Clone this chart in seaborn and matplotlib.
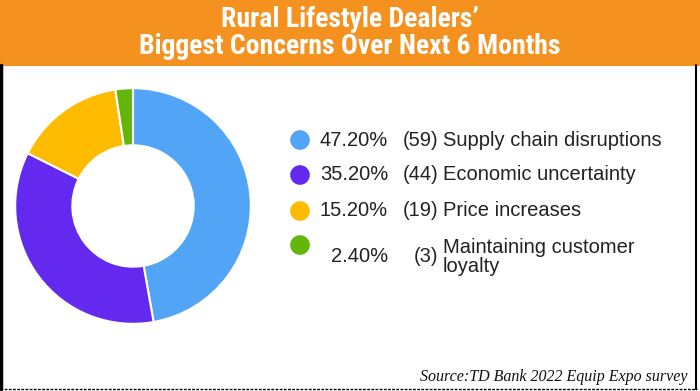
import matplotlib
matplotlib.use("Agg")
import matplotlib.pyplot as plt
import seaborn as sns
from matplotlib.patches import Rectangle

# data
labels = ["Supply chain disruptions", "Economic uncertainty", "Price increases",
          "Maintaining customer\nloyalty"]
counts = [59, 44, 19, 3]
shares = [47.20, 35.20, 15.20, 2.40]
colors = ["#52A5F6", "#6329EF", "#FFBB00", "#63B60A"]

title = "Rural Lifestyle Dealers\u2019\nBiggest Concerns Over Next 6 Months"
source = "Source:TD Bank 2022 Equip Expo survey"

sns.set_theme(style="white")
plt.rcParams["font.family"] = ["Liberation Sans", "DejaVu Sans"]

fig = plt.figure(figsize=(7, 3.91), dpi=100)

# overlay in pixel coords for header, borders and legend
ov = fig.add_axes([0, 0, 1, 1])
ov.set_xlim(0, 700)
ov.set_ylim(391, 0)
ov.axis("off")
ov.add_patch(Rectangle((0, 0), 700, 65.5, color="#F5911E", lw=0))
ov.plot([1, 1], [65, 389], color="black", lw=2.5)
ov.plot([696, 696], [65, 389], color="black", lw=1.5)
ov.plot([0, 697], [389, 389], color="black", lw=1, ls=(0, (2, 1)))
ov.text(350, 33, title, ha="center", va="center", color="white",
        fontsize=20, fontweight="bold", linespacing=1.02,
        family=["Liberation Sans Narrow", "Roboto Condensed", "DejaVu Sans"])
ov.text(688, 377, source, ha="right", va="center", fontsize=11.5,
        style="italic", family=["Liberation Serif", "DejaVu Serif"], color="#111111")

# legend
dot_y = [140, 175, 211, 245]
text_y = [140, 175, 211, 257]
ov.scatter([300] * len(dot_y), dot_y, s=200, c=colors, lw=0)
for y, sh, n, lab in zip(text_y, shares, counts, labels):
    ov.text(388, y, f"{sh:.2f}%", ha="right", va="center", fontsize=14.5, color="#222222")
    ov.text(438, y, f"({n})", ha="right", va="center", fontsize=14.5, color="#222222")
    ov.text(443, y, lab, ha="left", va="center", fontsize=14.5, color="#222222",
            linespacing=0.95)

# donut
ax = fig.add_axes([14 / 700, (391 - 325) / 391, 238 / 700, 238 / 391])
ax.pie(shares, colors=colors, startangle=90, counterclock=False,
       wedgeprops=dict(width=0.485, edgecolor="white", linewidth=1.5))
ax.set_xlim(-1.01, 1.01)
ax.set_ylim(-1.01, 1.01)
ax.set_aspect("equal")
ax.axis("off")

fig.savefig("out.png", dpi=100)
